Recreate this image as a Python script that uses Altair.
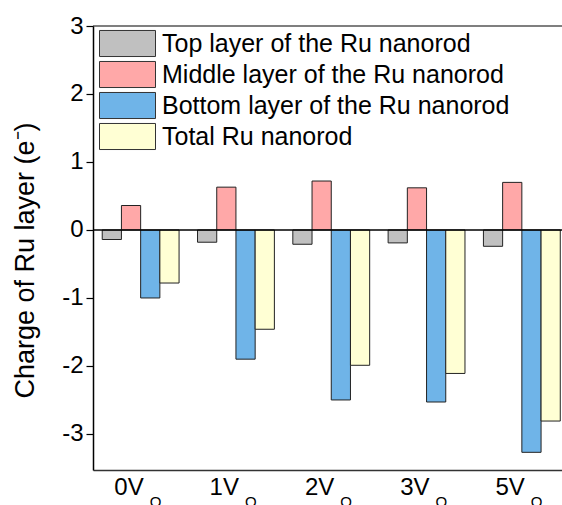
import altair as alt
import pandas as pd

categories = ["0V", "1V", "2V", "3V", "5V"]
subscripts = ["O", "O", "O", "O", "O"]
series_names = [
    "Top layer of the Ru nanorod",
    "Middle layer of the Ru nanorod",
    "Bottom layer of the Ru nanorod",
    "Total Ru nanorod",
]
top_layer = [-0.14, -0.18, -0.21, -0.19, -0.24]
middle_layer = [0.36, 0.63, 0.72, 0.62, 0.70]
bottom_layer = [-1.00, -1.90, -2.50, -2.53, -3.27]
total_ru = [-0.78, -1.46, -1.99, -2.11, -2.81]
colors = ["#C0C0C0", "#FFA8A8", "#6FB4E8", "#FFFFD4"]
y_ticks = [-3, -2.5, -2, -1.5, -1, -0.5, 0, 0.5, 1, 1.5, 2, 2.5, 3]

series_values = [top_layer, middle_layer, bottom_layer, total_ru]
rows = []
for name, vals in zip(series_names, series_values):
    for c, v in zip(categories, vals):
        rows.append({"cat": c, "series": name, "value": v})
df = pd.DataFrame(rows)
lab_df = pd.DataFrame({"cat": categories, "sub": subscripts})

W = 469
H = 444
FONT = "Liberation Sans"

x_enc = alt.X(
    "cat:N",
    sort=categories,
    scale=alt.Scale(range=[0, 476.5], paddingInner=0, paddingOuter=0),
    axis=alt.Axis(labels=False, ticks=False, title=None, domainColor="#333", domainWidth=1.5, grid=False),
)

y_scale = alt.Scale(domain=[-3.53, 3], nice=False, zero=False)

bars = alt.Chart(df).mark_bar(stroke="#222", strokeWidth=1).encode(
    x=x_enc,
    xOffset=alt.XOffset("series:N", sort=series_names,
                        scale=alt.Scale(paddingInner=0, paddingOuter=0.48)),
    y=alt.Y(
        "value:Q",
        scale=y_scale,
        axis=alt.Axis(
            values=y_ticks,
            labelExpr="datum.value % 1 === 0 ? (datum.value < 0 ? '-' + abs(datum.value) : '' + datum.value) : ''",
            tickSize={"condition": {"test": "datum.value % 1 === 0", "value": 7}, "value": 4},
            tickColor="black",
            tickWidth=1.2,
            domainColor="black",
            domainWidth=1.5,
            grid=False,
            labelFont=FONT,
            labelFontSize=24,
            labelColor="black",
            labelPadding=3,
            title="Charge of Ru layer (e\u207b)",
            titleFont=FONT,
            titleFontSize=27,
            titleFontWeight="normal",
            titleColor="black",
            titleAngle=-90,
            titleAlign="center",
            titleBaseline="alphabetic",
            titleX=-60,
            titleY=234,
        ),
    ),
    color=alt.Color(
        "series:N",
        sort=series_names,
        scale=alt.Scale(domain=series_names, range=colors),
        legend=alt.Legend(
            orient="none",
            legendX=20,
            legendY=3,
            title=None,
            padding=0,
            symbolType="M-2,-0.93H2V0.93H-2Z",
            symbolSize=784,
            symbolStrokeColor="#333",
            symbolStrokeWidth=1,
            symbolOpacity=1,
            labelFont=FONT,
            labelFontSize=25,
            labelColor="black",
            labelOffset=20,
            labelLimit=0,
            rowPadding=0,
        ),
    ),
)

zero_rule = alt.Chart(pd.DataFrame({"z": [0]})).mark_rule(color="black", strokeWidth=1.5).encode(
    y=alt.Y("z:Q", scale=y_scale)
)

top_border = alt.Chart(pd.DataFrame({"z": [0]})).mark_rule(color="black", strokeWidth=1.2).encode(
    y=alt.value(0), x=alt.value(0), x2=alt.value(W)
)

main_labels = alt.Chart(lab_df).mark_text(
    align="right", baseline="alphabetic", font=FONT, fontSize=24, color="black", dx=3
).encode(
    x=alt.X("cat:N", sort=categories),
    y=alt.value(H + 25),
    text="cat:N",
)

sub_labels = alt.Chart(lab_df).mark_text(
    align="left", baseline="alphabetic", font=FONT, fontSize=15, color="black", dx=9
).encode(
    x=alt.X("cat:N", sort=categories),
    y=alt.value(H + 37),
    text="sub:N",
)

chart = alt.layer(bars, zero_rule, top_border, main_labels, sub_labels).properties(
    width=W,
    height=H,
    autosize=alt.AutoSizeParams(type="none"),
    padding={"left": 93, "top": 26, "right": 0, "bottom": 35},
).configure_view(stroke=None)

chart.save("out.html", embed_options={"renderer": "svg", "actions": False})
